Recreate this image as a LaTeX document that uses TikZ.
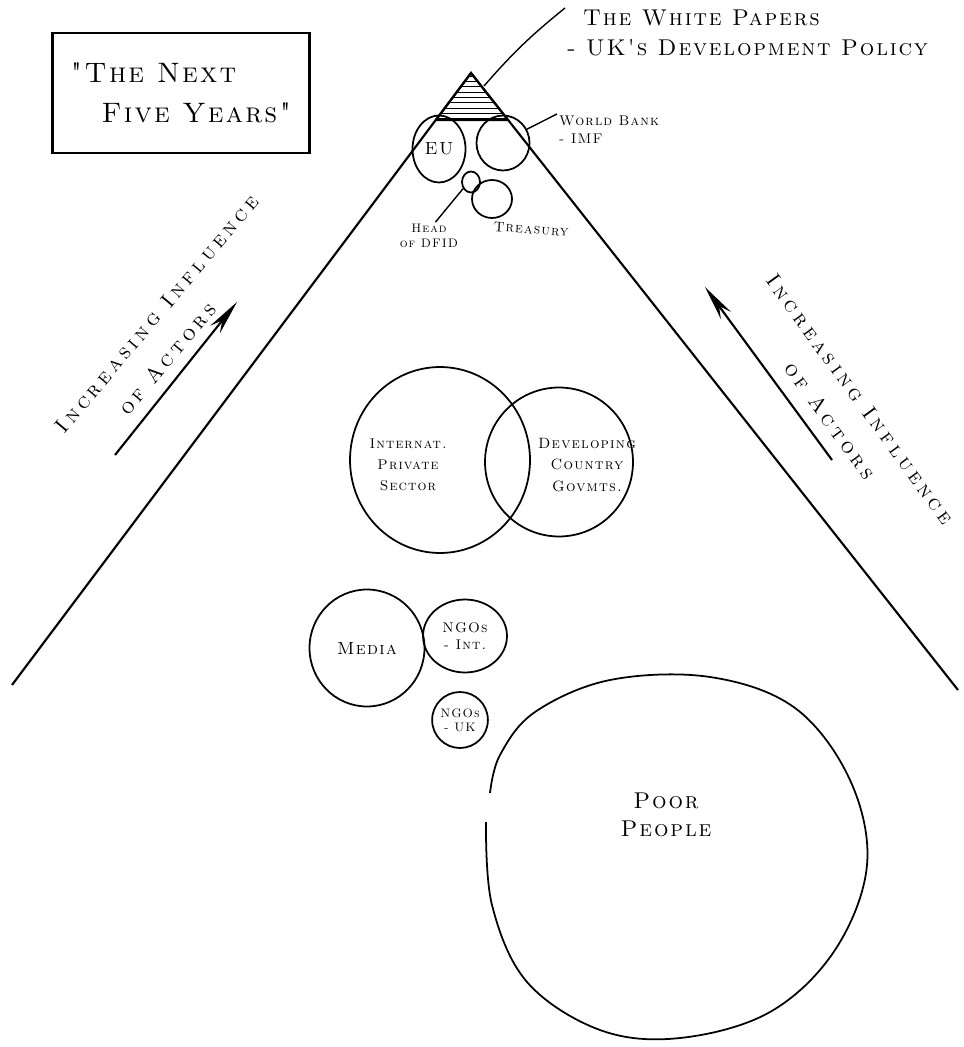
\documentclass[tikz,border=0pt]{standalone}
\usepackage{fontspec}
\usepackage{tikz}
\usetikzlibrary{shapes.geometric,arrows.meta,patterns}
\newfontfamily\handfont{lmromancaps10-regular.otf}[LetterSpace=8]
\newfontfamily\wideface{lmromancaps10-regular.otf}[LetterSpace=20]

\begin{document}
\begin{tikzpicture}[x=0.02cm, y=-0.02cm,
    actor/.style={draw, ellipse, line width=1pt, inner sep=0pt, align=center},
    hand/.style={font=\handfont, align=center, inner sep=1pt},
    side/.style={hand, font=\wideface\fontsize{12}{21}\selectfont},
    bigarrow/.style={line width=1.2pt, -{Stealth[length=20pt,width=7pt]}}]
\useasboundingbox (0,0) rectangle (963,1047);

% pyramid of influence
\coordinate (apex) at (471,73);
\coordinate (leftfoot) at (12,685);
\coordinate (rightfoot) at (958,690);
\draw[line width=1.2pt] (leftfoot) -- (apex) -- (rightfoot);
\coordinate (hatchl) at (436,120);
\coordinate (hatchr) at (508,120);
\draw[line width=1.2pt, pattern=horizontal lines] (apex) -- (hatchl) -- (hatchr) -- cycle;

% title box
\node[draw, line width=1.2pt, minimum width=5.14cm, minimum height=2.4cm,
      font=\handfont\fontsize{16}{23}\selectfont, align=left] (titlebox) at (181,93)
      {"The Next\\\hspace*{1.1em}Five Years"};

% white papers
\node[hand, anchor=north west, align=left, font=\handfont\fontsize{13}{17}\selectfont] (papers) at (565,8)
      {\hspace*{0.7em}The White Papers\\- UK's Development Policy};
\coordinate (hatchtip) at (484,86);
\draw[line width=0.8pt] (hatchtip) to[bend left=5] (papers.north west);

% top actors
\node[actor, minimum width=1.06cm, minimum height=1.34cm, font=\handfont\fontsize{10}{12}\selectfont] (eu) at (439,149) {EU};
\node[actor, minimum width=1.06cm, minimum height=1.1cm] (wb) at (503,143) {};
\node[hand, anchor=north west, align=left, font=\handfont\fontsize{8}{10}\selectfont] (wblbl) at (557,114)
      {World Bank\\- IMF};
\draw[line width=0.8pt] (wb.30) -- (wblbl.north west);
\node[actor, minimum width=0.36cm, minimum height=0.42cm] (dfid) at (471,182) {};
\node[actor, minimum width=0.8cm, minimum height=0.76cm] (treasury) at (492,199) {};
\node[hand, font=\handfont\fontsize{7}{8.5}\selectfont] (dfidlbl) at (429,236) {Head\\of DFID};
\draw[line width=0.8pt] (dfid.220) -- (dfidlbl.65);
\node[hand, font=\handfont\fontsize{8}{9}\selectfont, rotate=-4] (treasurylbl) at (531,229) {Treasury};

% increasing influence arrows
\coordinate (ltail) at (115,455);
\coordinate (ltip) at (237,302);
\draw[bigarrow] (ltail) -- (ltip);
\node[side, rotate=50] (linfl) at (171,326) {Increasing Influence\\of Actors\hspace*{31pt}};
\coordinate (rtail) at (832,460);
\coordinate (rtip) at (705,287);
\draw[bigarrow] (rtail) -- (rtip);
\node[side, rotate=-54] (rinfl) at (845,410) {Increasing Influence\\of Actors};

% middle actors
\node[actor, minimum width=3.6cm, minimum height=3.72cm] (private) at (440,460) {};
\node[actor, minimum width=2.96cm, minimum height=2.98cm] (govmts) at (559,462) {};
\node[hand, font=\handfont\fontsize{8}{12}\selectfont] (privatelbl) at (408,465) {Internat.\\Private\\Sector};
\node[hand, font=\handfont\fontsize{8.5}{12}\selectfont] (govmtslbl) at (587,465) {Developing\\Country\\Govmts.};

% lower actors
\node[actor, minimum width=2.3cm, minimum height=2.34cm, font=\handfont\fontsize{10}{12}\selectfont] (media) at (367,648) {Media};
\node[actor, minimum width=1.68cm, minimum height=1.46cm, font=\handfont\fontsize{8}{10}\selectfont] (ngoint) at (465,636) {NGOs\\- Int.};
\node[actor, minimum width=1.08cm, minimum height=1.12cm, font=\handfont\fontsize{7}{8}\selectfont] (ngouk) at (460,720) {NGOs\\- UK};

% poor people
\draw[line width=1pt] plot[smooth, tension=0.6] coordinates {(486,822) (492,905) (527,982) (600,1030)
      (680,1038) (770,1012) (835,950) (867,865) (850,780) (795,708) (710,677) (610,680) (535,712)
      (500,755) (490,793)};
\node[hand, font=\handfont\fontsize{13}{16}\selectfont] (poor) at (666,815) {Poor\\People};
\end{tikzpicture}
\end{document}
